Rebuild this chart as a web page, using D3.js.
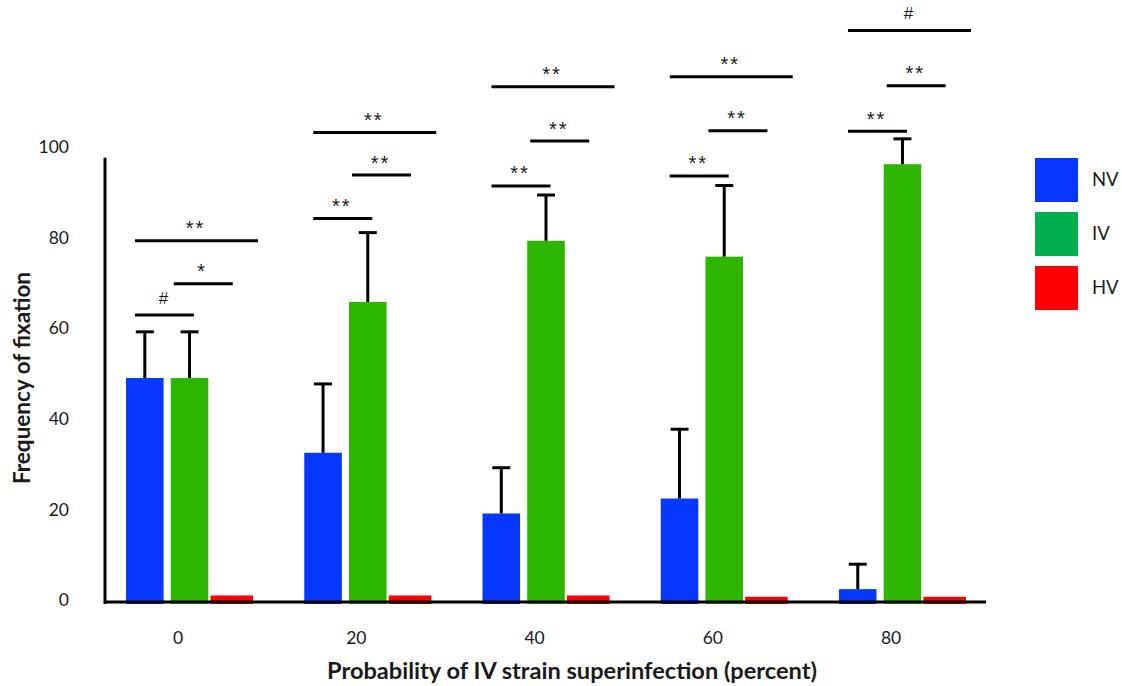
<!DOCTYPE html>
<html><head><meta charset="utf-8">
<script src="https://cdn.jsdelivr.net/npm/d3@7"></script>
<style>body{margin:0;background:#fff}svg{display:block}</style>
</head><body><svg id="c" width="1122" height="686"></svg>
<script>
const categories = ["0", "20", "40", "60", "80"];
const seriesNames = ["NV", "IV", "HV"];
const nvValues = [49.0, 32.5, 19.1, 22.4, 2.4];
const ivValues = [49.0, 65.8, 79.3, 75.8, 96.2];
const hvValues = [1.0, 1.0, 1.0, 0.7, 0.7];
const nvErrors = [10.2, 15.2, 10.1, 15.3, 5.5];
const ivErrors = [10.2, 15.3, 10.1, 15.7, 5.6];
const yTicks = [0, 20, 40, 60, 80, 100];
// significance brackets per group, order: NV-HV, IV-HV, NV-IV
const sigLabels = [["**", "*", "#"], ["**", "**", "**"], ["**", "**", "**"], ["**", "**", "**"], ["#", "**", "**"]];
const sigHeights = [[79.3, 69.8, 62.9], [103.2, 93.8, 84.2], [113.3, 101.3, 91.4], [115.5, 103.6, 93.6], [125.7, 113.5, 103.5]];

const barColors = {NV: "#0537ff", IV: "#2db600", HV: "#ff0000"};
const legendColors = {NV: "#0537ff", IV: "#00b050", HV: "#ff0000"};
const FONT = "Lato, 'Open Sans', sans-serif";
const SIGFONT = "'Liberation Sans', Arial, sans-serif";

const svg = d3.select("#c");
const x = d3.scaleBand().domain(categories).range([105, 987]).paddingInner(0.2875).paddingOuter(0.118);
const sub = d3.scaleBand().domain(seriesNames).range([0, x.bandwidth()]).paddingInner(0.16);
const y = d3.scaleLinear().domain([0, 100]).range([600, 147]);

const rows = categories.map((c, i) => ({
  cat: c,
  bars: [
    {s: "NV", v: nvValues[i], e: nvErrors[i]},
    {s: "IV", v: ivValues[i], e: ivErrors[i]},
    {s: "HV", v: hvValues[i], e: null}
  ]
}));

// bars
const g = svg.append("g");
rows.forEach(r => {
  r.bars.forEach(b => {
    const extra = b.s === "HV" ? 5 : 0;
    const x0 = x(r.cat) + sub(b.s) - extra;
    g.append("rect")
      .attr("x", x0).attr("y", y(b.v))
      .attr("width", sub.bandwidth() + extra)
      .attr("height", y(0) + 4 - y(b.v))
      .attr("fill", barColors[b.s]);
  });
});

// error bars
rows.forEach(r => {
  r.bars.filter(b => b.e != null).forEach(b => {
    const cx = x(r.cat) + sub(b.s) + sub.bandwidth() / 2;
    g.append("line").attr("x1", cx).attr("x2", cx)
      .attr("y1", y(b.v)).attr("y2", y(b.v + b.e))
      .attr("stroke", "#000").attr("stroke-width", 3);
    g.append("line").attr("x1", cx - 9).attr("x2", cx + 9)
      .attr("y1", y(b.v + b.e)).attr("y2", y(b.v + b.e))
      .attr("stroke", "#000").attr("stroke-width", 3);
  });
});

// axes
svg.append("line").attr("x1", 105).attr("x2", 105).attr("y1", y(97.6)).attr("y2", y(0) + 4)
  .attr("stroke", "#000").attr("stroke-width", 3);
svg.append("line").attr("x1", 104).attr("x2", 986).attr("y1", y(0) + 2).attr("y2", y(0) + 2)
  .attr("stroke", "#000").attr("stroke-width", 3);

const yAxis = svg.append("g").attr("transform", "translate(105,0)")
  .call(d3.axisLeft(y).tickValues(yTicks).tickSize(0).tickPadding(36).tickFormat(d3.format("d")));
yAxis.select(".domain").remove();
yAxis.selectAll("text").attr("font-family", FONT).attr("font-size", 17.5).attr("fill", "#1a1a1a");

const xAxis = svg.append("g")
  .call(d3.axisBottom(x).tickSize(0).tickPadding(0));
xAxis.select(".domain").remove();
xAxis.selectAll(".tick").attr("transform", d => `translate(${x(d) + sub("NV") + x.bandwidth() * 0.41},0)`);
xAxis.selectAll("text").attr("font-family", FONT).attr("font-size", 17.5).attr("fill", "#1a1a1a")
  .attr("y", y(0) + 44).attr("dy", null);

// axis titles
svg.append("text").attr("x", 572).attr("y", 679).attr("text-anchor", "middle")
  .attr("font-family", FONT).attr("font-weight", "bold").attr("font-size", 23.6).attr("fill", "#1a1a1a")
  .text("Probability of IV strain superinfection (percent)");
svg.append("text").attr("transform", "translate(30,378) rotate(-90)").attr("text-anchor", "middle")
  .attr("font-family", FONT).attr("font-weight", "bold").attr("font-size", 22.5).attr("fill", "#1a1a1a")
  .text("Frequency of fixation");

// significance brackets
const spans = [
  [() => sub("NV") + 9, () => x.bandwidth() + 5],
  [() => sub("IV") + 3, () => sub("IV") + 62],
  [() => sub("NV") + 9, () => sub("NV") + 68]
];
categories.forEach((c, i) => {
  sigLabels[i].forEach((lab, k) => {
    const x1 = x(c) + spans[k][0](), x2 = x(c) + spans[k][1]();
    const yy = y(sigHeights[i][k]);
    svg.append("line").attr("x1", x1).attr("x2", x2).attr("y1", yy).attr("y2", yy)
      .attr("stroke", "#000").attr("stroke-width", 3);
    svg.append("text").attr("x", (x1 + x2) / 2 - 1)
      .attr("y", yy - (lab === "#" ? 11.5 : 5.5))
      .attr("text-anchor", "middle").attr("font-family", SIGFONT)
      .attr("font-size", lab === "#" ? 17 : 20).attr("letter-spacing", lab === "#" ? 0 : 2)
      .attr("fill", "#1a1a1a").text(lab);
  });
});

// legend
const leg = svg.append("g");
seriesNames.forEach((s, i) => {
  leg.append("rect").attr("x", 1035).attr("y", 158 + i * 54).attr("width", 43).attr("height", 44)
    .attr("fill", legendColors[s]);
  leg.append("text").attr("x", 1092).attr("y", 180 + i * 54).attr("dy", "0.35em")
    .attr("font-family", FONT).attr("font-size", 18.5).attr("fill", "#1a1a1a").text(s);
});
</script>
</body></html>
